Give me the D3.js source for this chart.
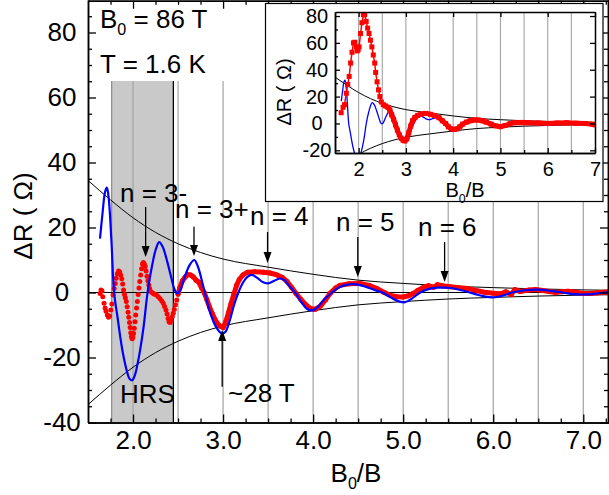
<!DOCTYPE html>
<html>
<head>
<meta charset="utf-8">
<script src="https://cdn.jsdelivr.net/npm/d3@7"></script>
<style>
  body { margin: 0; background: #fff; }
  text { font-family: "Liberation Sans", Arial, sans-serif; fill: #000; }
</style>
</head>
<body>
<svg id="chart" width="609" height="495"></svg>
<script>
// ---- data (B0/B, delta R in ohm) ----
const redB = [1.634,1.645,1.655,1.664,1.678,1.690,1.700,1.715,1.728,1.740,1.753,1.765,1.778,1.790,1.802,1.813,1.826,1.840,1.852,1.863,
  1.875,1.885,1.895,1.905,1.915,1.925,1.935,1.945,1.953,1.961,1.968,1.975,1.982,1.990,1.998,2.006,2.014,2.022,2.030,2.039,
  2.048,2.057,2.066,2.075,2.085,2.095,2.105,2.115,2.125,2.135,2.145,2.155,2.165,2.175,2.185,2.195,2.21,2.225,2.24,2.26,
  2.28,2.30,2.32,2.336,2.35,2.366,2.378,2.39,2.40,2.412,2.424,2.436,2.447,2.458,2.47,2.485,2.50,
  2.52,2.55,2.58,2.61,2.64,2.67,2.70,2.73,2.76,2.79,2.82,2.85,2.88,2.91,2.94,2.97,3.00,3.03,3.06,3.09,3.12,3.15,3.18,3.22,
  3.27,3.35,3.45,3.52,3.60,3.66,3.71,3.76,3.81,3.86,3.92,3.97,4.02,4.08,4.14,4.19,4.25,4.30,4.40,4.52,4.62,4.71,4.79,4.86,
  4.93,5.00,5.06,5.11,5.16,5.22,5.28,5.34,5.38,5.45,5.52,5.62,5.72,5.81,5.90,6.00,6.08,6.14,6.20,6.24,6.30,6.40,6.47,6.55,
  6.62,6.69,6.76,6.83,6.92,7.00,7.08,7.16,7.24,7.28];
const redR = [-0.3,0.8,0.5,-1.3,-3.3,-4.8,-5.8,-6.9,-7.6,-7.2,-5.4,-3.5,-0.8,1.2,2.8,4.4,5.8,6.6,6.3,5.4,
  4.2,2.6,0.8,-0.6,-1.6,-2.8,-4.4,-6.1,-7.6,-9.2,-10.8,-12.4,-13.6,-14.2,-13.8,-12.6,-11,-9,-6.9,-4.8,
  -2.8,-0.6,1.4,3.4,5.4,7.3,8.8,9.2,8.8,8,6.6,5,3.6,2.3,1.2,0.4,0,-0.3,-0.5,-0.8,
  -1.3,-1.9,-2.6,-3.3,-4.3,-5.4,-6.6,-8,-9,-9.2,-8.5,-7.4,-6.4,-5.2,-3.8,-2.3,-0.5,
  1.5,3.7,4.8,5.5,5.4,4.8,3.8,3.2,1.5,0,-2.2,-4.5,-6.5,-8.3,-9.6,-10.4,-10.8,-9,-6.2,-3.2,-0.5,2.2,4,5.4,
  6.2,6.4,6.2,6.0,5.4,4.6,3.4,1.6,-0.3,-2,-3.8,-4.9,-5.2,-4.2,-2.2,-0.2,1.4,2.2,2.7,2.8,2.2,1.2,0,-0.9,
  -1.3,-1.4,-1.0,-0.3,0.6,1.5,2.1,1.6,2.4,2.0,1.8,1.5,1.2,0.6,0.1,-0.2,-0.4,0.2,-0.6,0.9,0.3,0.8,0.9,0.6,
  0.3,0,0.2,0.4,0.1,-0.3,-0.3,-0.1,0.1,0.2];

const blueB = [1.633,1.66,1.69,1.71,1.73,1.76,1.79,1.83,1.86,1.89,1.93,1.96,1.99,2.02,2.05,2.08,2.12,2.15,2.18,2.21,
  2.25,2.29,2.33,2.38,2.43,2.46,2.49,2.52,2.57,2.63,2.68,2.72,2.77,2.81,2.86,2.92,2.98,3.02,3.07,3.12,
  3.17,3.22,3.27,3.32,3.38,3.44,3.50,3.56,3.63,3.68,3.73,3.80,3.87,3.93,3.99,4.05,4.12,4.21,4.30,4.40,
  4.48,4.58,4.68,4.77,4.88,4.96,5.02,5.10,5.19,5.29,5.38,5.46,5.55,5.66,5.80,5.90,6.00,6.10,6.21,6.35,
  6.50,6.64,6.77,6.90,7.02,7.15,7.29];
const blueR = [16.6,24,31,32.3,29,16,0,-8,-14,-19,-24,-26.5,-27,-25.5,-22,-17.5,-10,-2.5,3.5,8,
  13,15.5,14,9.5,4,1,-0.3,0.5,4.5,8.5,10,8,3,-1.5,-6.5,-10.5,-12.5,-12.3,-9,-4,
  0,3,4.8,5.4,4.5,3.2,2.8,3.5,4.3,3.8,2.2,0,-3,-5,-5.5,-4.5,-2.2,0,1.8,2.5,
  2.5,1.8,0.8,0,-1.8,-2.8,-3,-1.8,0,1.1,1.5,1.5,1.3,0.6,-0.5,-1.2,-1.5,-1.0,0,0.7,
  0.9,0.5,0,-0.5,-0.6,-0.3,0.1];

// envelope magnitude (drawn as +/-)
const envB = [1.5,1.75,2.0,2.25,2.5,2.75,3.0,3.5,4.0,4.5,5.0,5.5,6.0,6.5,7.0,7.3];
const envA = [34.5,28.5,23,18.5,15,12.3,10.3,7.8,5.6,3.8,2.8,2.0,1.5,1.1,0.8,0.7];

// inset: raw data with squares
const insetB = [1.63,1.67,1.70,1.74,1.77,1.80,1.83,1.86,1.89,1.92,1.95,1.97,1.99,2.01,2.04,2.07,2.10,2.13,2.16,2.19,
  2.22,2.25,2.28,2.31,2.34,2.36,2.39,2.42,2.45,2.48,2.52,2.57,2.62,2.66,2.70,2.74,2.78,2.82,2.86,2.90,
  2.94,2.98,3.02,3.06,3.10,3.14,3.19,3.25,3.32,3.42,3.52,3.60,3.70,3.77,3.84,3.90,3.96,4.02,4.08,4.14,
  4.20,4.28,4.36,4.45,4.53,4.62,4.70,4.80,4.90,5.00,5.10,5.20,5.30,5.45,5.60,5.80,6.00,6.20,6.40,6.60,
  6.80,6.95,7.00];
const insetR = [8,12,14,22.5,29,35,45,53,60,60.5,57,54,55,57,67,75,81,81,76,71,
  67,62,57,51,45,38,31,25,20,16,14,13,12,10,6.5,3,-1,-5,-8.5,-11,
  -12.5,-13,-11.5,-7,-2,2,4.5,6,7,7.5,6.8,6,4.3,2,0,-2.5,-4,-4.5,-4,-2.5,
  -0.5,1,2,2.6,2.6,2,1,-0.5,-1.8,-2.4,-1.5,-0.2,0.6,0.8,0.5,0.3,0,0.3,0.5,0.2,
  0,-0.6,-1];

// annotations: B0/B of the arrow, tail and tip in ohm
const arrows = [
  {b: 2.14, from: 26.3, to: 10.9},
  {b: 2.677, from: 20.2, to: 11.2},
  {b: 3.494, from: 18.6, to: 9.1},
  {b: 4.496, from: 17.1, to: 4.8},
  {b: 5.46, from: 15.5, to: 3.2},
  {b: 2.99, from: -29, to: -11.5}
];
const hrsBand = [1.763, 2.448];

const pts = (xs, ys) => xs.map((d, i) => [d, ys[i]]);

const svg = d3.select("#chart");
svg.append("rect").attr("width", 609).attr("height", 495).attr("fill", "#fff");

// ---------------- main plot ----------------
const x = d3.scaleLinear().domain([1.5, 7.28]).range([88, 608.5]);
const y = d3.scaleLinear().domain([-40, 90]).range([422.5, 0]);

svg.append("clipPath").attr("id", "clipMain")
  .append("rect").attr("x", 88).attr("y", 0).attr("width", 520.5).attr("height", 422.5);

const main = svg.append("g").attr("clip-path", "url(#clipMain)");

// shaded high resolution region
main.append("rect")
    .attr("x", x(hrsBand[0])).attr("y", 0)
    .attr("width", x(hrsBand[1]) - x(hrsBand[0])).attr("height", 422.5)
    .attr("fill", "#c9c9c9");
main.append("line")
    .attr("x1", x(hrsBand[0])).attr("x2", x(hrsBand[0])).attr("y1", 0).attr("y2", 422.5)
    .attr("stroke", "#8a8a8a").attr("stroke-width", 1.2);

// grid lines every 0.5
main.selectAll("line.grid")
  .data(d3.range(2, 7.01, 0.5))
  .join("line")
    .attr("class", "grid")
    .attr("x1", d => x(d)).attr("x2", d => x(d))
    .attr("y1", 0).attr("y2", 422.5)
    .attr("stroke", "#a3a3a3").attr("stroke-width", 1.2);

main.append("line")
    .attr("x1", x(hrsBand[1])).attr("x2", x(hrsBand[1])).attr("y1", 0).attr("y2", 422.5)
    .attr("stroke", "#000").attr("stroke-width", 1.3);

// white box behind the parameters
main.append("rect").attr("x", 89).attr("y", 0).attr("width", 139).attr("height", 81).attr("fill", "#fff");

main.append("line")
    .attr("x1", 88).attr("x2", 608.5).attr("y1", y(0)).attr("y2", y(0))
    .attr("stroke", "#000").attr("stroke-width", 1.2);

const envUp = d3.line().x(d => x(d[0])).y(d => y(d[1])).curve(d3.curveMonotoneX);
main.append("path").datum(pts(envB, envA))
    .attr("d", envUp).attr("fill", "none").attr("stroke", "#000").attr("stroke-width", 1);
main.append("path").datum(pts(envB, envA.map(a => -a)))
    .attr("d", envUp).attr("fill", "none").attr("stroke", "#000").attr("stroke-width", 1);

// measured data: dots, merged into a thick band where dense
const redPts = pts(redB, redR);
const lineXY = d3.line().x(d => x(d[0])).y(d => y(d[1]));
main.append("path").datum(redPts.filter(d => d[0] >= 2.5))
    .attr("d", lineXY).attr("fill", "none").attr("stroke", "#ff0000")
    .attr("stroke-width", 5).attr("stroke-linejoin", "round").attr("stroke-linecap", "round");
main.selectAll("circle.red")
  .data(redPts)
  .join("circle")
    .attr("class", "red")
    .attr("cx", d => x(d[0])).attr("cy", d => y(d[1])).attr("r", 2.5)
    .attr("fill", "#ff0000");

// simulation
main.append("path").datum(pts(blueB, blueR))
    .attr("d", d3.line().x(d => x(d[0])).y(d => y(d[1])).curve(d3.curveCatmullRom))
    .attr("fill", "none").attr("stroke", "#0000ff").attr("stroke-width", 2.2);

// arrows
const arr = svg.append("g");
arrows.forEach(a => {
  const ax = x(a.b), y0 = y(a.from), y1 = y(a.to);
  const dir = y1 > y0 ? 1 : -1;
  arr.append("line").attr("x1", ax).attr("x2", ax).attr("y1", y0).attr("y2", y1 - dir * 8)
      .attr("stroke", "#000").attr("stroke-width", 1.3);
  arr.append("path")
      .attr("d", `M${ax},${y1}L${ax - 4},${y1 - dir * 11}L${ax + 4},${y1 - dir * 11}Z`)
      .attr("fill", "#000");
});

const fs = 26;
function label(g, tx, ty, parts, size) {
  const t = g.append("text").attr("x", tx).attr("y", ty).attr("font-size", size);
  parts.forEach(p => {
    if (p.sub) {
      t.append("tspan").attr("font-size", size * 0.62).attr("dy", size * 0.28).text(p.sub);
    } else {
      t.append("tspan").attr("dy", p.after ? -size * 0.28 : null).text(p.t);
    }
  });
  return t;
}
label(svg, 100, 28, [{t: "B"}, {sub: "0"}, {t: " = 86 T", after: true}], fs);
label(svg, 100, 73, [{t: "T = 1.6 K"}], fs);
label(svg, 120, 202, [{t: "n = 3-"}], fs);
label(svg, 175, 218, [{t: "n = 3+"}], fs);
label(svg, 250, 225, [{t: "n = 4"}], fs);
label(svg, 336, 231, [{t: "n = 5"}], fs);
label(svg, 418, 236, [{t: "n = 6"}], fs);
label(svg, 120, 403, [{t: "HRS"}], fs);
label(svg, 228, 402, [{t: "~28 T"}], fs);

// axes of the main plot
function styleAxis(g) {
  g.select(".domain").attr("stroke", "#000").attr("stroke-width", 1.5);
  g.selectAll(".tick line").attr("stroke", "#000").attr("stroke-width", 1.3);
  g.attr("font-family", null).attr("font-size", null);
}
const xMajor = [2, 3, 4, 5, 6, 7];
const xMinor = d3.range(1.75, 7.28, 0.25).filter(v => Math.abs(v - Math.round(v)) > 0.01);
const yMajor = [-40, -20, 0, 20, 40, 60, 80];
const yMinor = d3.range(-35, 90, 5).filter(v => v % 20 !== 0);

svg.append("g").attr("transform", "translate(0,422.5)")
    .call(d3.axisBottom(x).tickValues(xMinor).tickSize(-4).tickSizeOuter(0).tickFormat(""))
    .call(styleAxis);
svg.append("g").attr("transform", "translate(0,422.5)")
    .call(d3.axisBottom(x).tickValues(xMajor).tickSize(-8).tickSizeOuter(0).tickFormat(d3.format(".1f")))
    .call(styleAxis)
    .call(g => g.selectAll("text").attr("y", 26.5).attr("dy", null).attr("font-size", fs));
svg.append("g").attr("transform", "translate(0,0.75)")
    .call(d3.axisTop(x).tickValues(xMinor).tickSize(-4).tickSizeOuter(0).tickFormat(""))
    .call(styleAxis);
svg.append("g").attr("transform", "translate(0,0.75)")
    .call(d3.axisTop(x).tickValues(xMajor).tickSize(-8).tickSizeOuter(0).tickFormat(""))
    .call(styleAxis);

svg.append("g").attr("transform", "translate(88,0)")
    .call(d3.axisLeft(y).tickValues(yMinor).tickSize(-4).tickSizeOuter(0).tickFormat(""))
    .call(styleAxis);
svg.append("g").attr("transform", "translate(88,0)")
    .call(d3.axisLeft(y).tickValues(yMajor).tickSize(-8).tickSizeOuter(0).tickFormat(d => String(d)))
    .call(styleAxis)
    .call(g => g.selectAll("text").attr("x", 62 - 88).attr("text-anchor", "middle").attr("font-size", fs));
svg.append("g").attr("transform", "translate(608,0)")
    .call(d3.axisRight(y).tickValues(yMinor).tickSize(-4).tickSizeOuter(0).tickFormat(""))
    .call(styleAxis);
svg.append("g").attr("transform", "translate(608,0)")
    .call(d3.axisRight(y).tickValues(yMajor).tickSize(-8).tickSizeOuter(0).tickFormat(""))
    .call(styleAxis);

label(svg, 356, 482, [{t: "B"}, {sub: "0"}, {t: "/B", after: true}], fs).attr("text-anchor", "middle");
svg.append("text")
    .attr("transform", "translate(32,216) rotate(-90)")
    .attr("text-anchor", "middle").attr("font-size", fs)
    .text("\u0394R ( \u03A9)");

// ---------------- inset ----------------
const xi = d3.scaleLinear().domain([1.5, 7.0]).range([335, 595]);
const yi = d3.scaleLinear().domain([-22, 83]).range([153, 12]);
const fi = 20;

const inset = svg.append("g");
inset.append("rect").attr("x", 265.5).attr("y", 3.5).attr("width", 337.5).attr("height", 198)
    .attr("fill", "#fff").attr("stroke", "#000").attr("stroke-width", 1.2);

svg.append("clipPath").attr("id", "clipInset")
  .append("rect").attr("x", 335).attr("y", 12).attr("width", 260).attr("height", 141);
const ip = inset.append("g").attr("clip-path", "url(#clipInset)");

ip.selectAll("line.grid")
  .data(d3.range(2, 6.51, 0.5))
  .join("line")
    .attr("x1", d => xi(d)).attr("x2", d => xi(d)).attr("y1", 12).attr("y2", 153)
    .attr("stroke", "#a3a3a3").attr("stroke-width", 1.1);

const envI = d3.line().x(d => xi(d[0])).y(d => yi(d[1])).curve(d3.curveMonotoneX);
ip.append("path").datum(pts(envB, envA)).attr("d", envI)
    .attr("fill", "none").attr("stroke", "#000").attr("stroke-width", 1);
ip.append("path").datum(pts(envB, envA.map(a => -a))).attr("d", envI)
    .attr("fill", "none").attr("stroke", "#000").attr("stroke-width", 1);

ip.append("path").datum(pts(blueB, blueR))
    .attr("d", d3.line().x(d => xi(d[0])).y(d => yi(d[1])).curve(d3.curveCatmullRom))
    .attr("fill", "none").attr("stroke", "#0000ff").attr("stroke-width", 1.3);

const insetPts = pts(insetB, insetR);
const lineI = d3.line().x(d => xi(d[0])).y(d => yi(d[1]));
ip.append("path").datum(insetPts).attr("d", lineI)
    .attr("fill", "none").attr("stroke", "#ff0000").attr("stroke-width", 1.5);
ip.append("path").datum(insetPts.filter(d => d[0] >= 2.5)).attr("d", lineI)
    .attr("fill", "none").attr("stroke", "#ff0000").attr("stroke-width", 5)
    .attr("stroke-linejoin", "round");
ip.selectAll("rect.sq")
  .data(insetPts)
  .join("rect")
    .attr("class", "sq")
    .attr("x", d => xi(d[0]) - 2.5).attr("y", d => yi(d[1]) - 2.5)
    .attr("width", 5).attr("height", 5).attr("fill", "#ff0000");

const xiMajor = [2, 3, 4, 5, 6, 7];
const xiMinor = d3.range(2.5, 7, 1);
const yiMajor = [-20, 0, 20, 40, 60, 80];
const yiMinor = [-10, 10, 30, 50, 70];

inset.append("g").attr("transform", "translate(0,153)")
    .call(d3.axisBottom(xi).tickValues(xiMinor).tickSize(-3).tickSizeOuter(0).tickFormat(""))
    .call(styleAxis);
inset.append("g").attr("transform", "translate(0,153)")
    .call(d3.axisBottom(xi).tickValues(xiMajor).tickSize(-5).tickSizeOuter(0).tickFormat(d => String(d)))
    .call(styleAxis)
    .call(g => g.selectAll("text").attr("y", 22.5).attr("dy", null).attr("font-size", fi));
inset.append("g").attr("transform", "translate(0,12)")
    .call(d3.axisTop(xi).tickValues(xiMajor).tickSize(-5).tickSizeOuter(0).tickFormat(""))
    .call(styleAxis);
inset.append("g").attr("transform", "translate(335,0)")
    .call(d3.axisLeft(yi).tickValues(yiMinor).tickSize(-3).tickSizeOuter(0).tickFormat(""))
    .call(styleAxis);
inset.append("g").attr("transform", "translate(335,0)")
    .call(d3.axisLeft(yi).tickValues(yiMajor).tickSize(-5).tickSizeOuter(0).tickFormat(d => String(d)))
    .call(styleAxis)
    .call(g => g.selectAll("text").attr("x", 317 - 335).attr("text-anchor", "middle").attr("font-size", fi));
inset.append("g").attr("transform", "translate(595,0)")
    .call(d3.axisRight(yi).tickValues(yiMajor).tickSize(-5).tickSizeOuter(0).tickFormat(""))
    .call(styleAxis);

label(inset, 465, 197, [{t: "B"}, {sub: "0"}, {t: "/B", after: true}], fi).attr("text-anchor", "middle");
inset.append("text")
    .attr("transform", "translate(291,92) rotate(-90)")
    .attr("text-anchor", "middle").attr("font-size", fi)
    .text("\u0394R ( \u03A9)");
</script>
</body>
</html>
